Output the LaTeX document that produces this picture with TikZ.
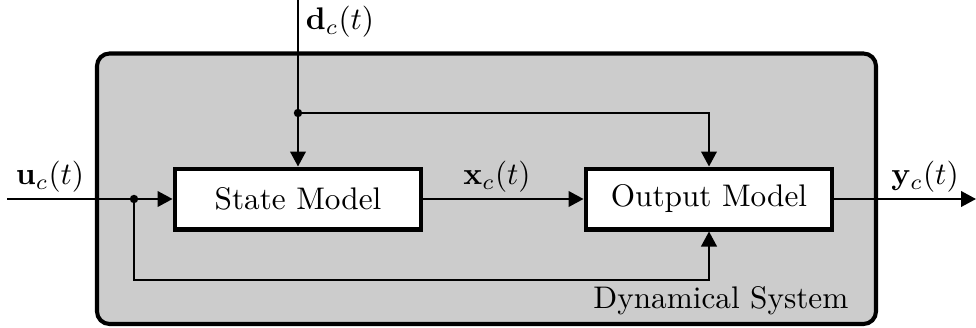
\documentclass[tikz,border=0pt]{standalone}
\usetikzlibrary{arrows.meta}
\begin{document}
\begin{tikzpicture}[x=0.32pt,y=-0.32pt,
  wire/.style={line width=0.65pt},
  sig/.style={wire,-{Triangle[length=4.8pt,width=5pt]}},
  block/.style={draw,fill=white,line width=1.3pt,minimum width=79pt,minimum height=19.5pt,inner sep=0pt,font=\normalsize},
  junction/.style={circle,fill=black,inner sep=0pt,minimum size=2.7pt},
  lbl/.style={font=\normalsize,inner sep=0pt}]
  \useasboundingbox (0,0) rectangle (976,328);
  % system enclosure
  \draw[line width=1.3pt,fill=black!20,rounded corners=4pt] (97,53.5) rectangle (876,324);
  \node[lbl,anchor=east] (sysname) at (849,301) {Dynamical System};
  % blocks
  \node[block] (state) at (298,199) {State Model};
  \node[block] (output) at (709,199) {Output Model};
  % terminals and branch points
  \coordinate (uin) at (7,199);
  \coordinate (usplit) at (134,199);
  \coordinate (ubot) at (134,280);
  \coordinate (din) at (298,0);
  \coordinate (dsplit) at (298,113);
  \coordinate (yout) at (976,199);
  % connectors
  \draw[sig] (uin) -- (state.west);
  \draw[sig] (usplit) -- (ubot) -| (output.south);
  \draw[sig] (din) -- (state.north);
  \draw[sig] (dsplit) -| (output.north);
  \draw[sig] (state.east) -- (output.west);
  \draw[sig] (output.east) -- (yout);
  \node[junction] (uj) at (usplit) {};
  \node[junction] (dj) at (dsplit) {};
  % signal labels
  \node[lbl] (ulbl) at (50,177) {$\mathbf{u}_c(t)$};
  \node[lbl] (dlbl) at (340,22) {$\mathbf{d}_c(t)$};
  \node[lbl] (xlbl) at (497,177) {$\mathbf{x}_c(t)$};
  \node[lbl] (ylbl) at (925,177) {$\mathbf{y}_c(t)$};
\end{tikzpicture}
\end{document}
